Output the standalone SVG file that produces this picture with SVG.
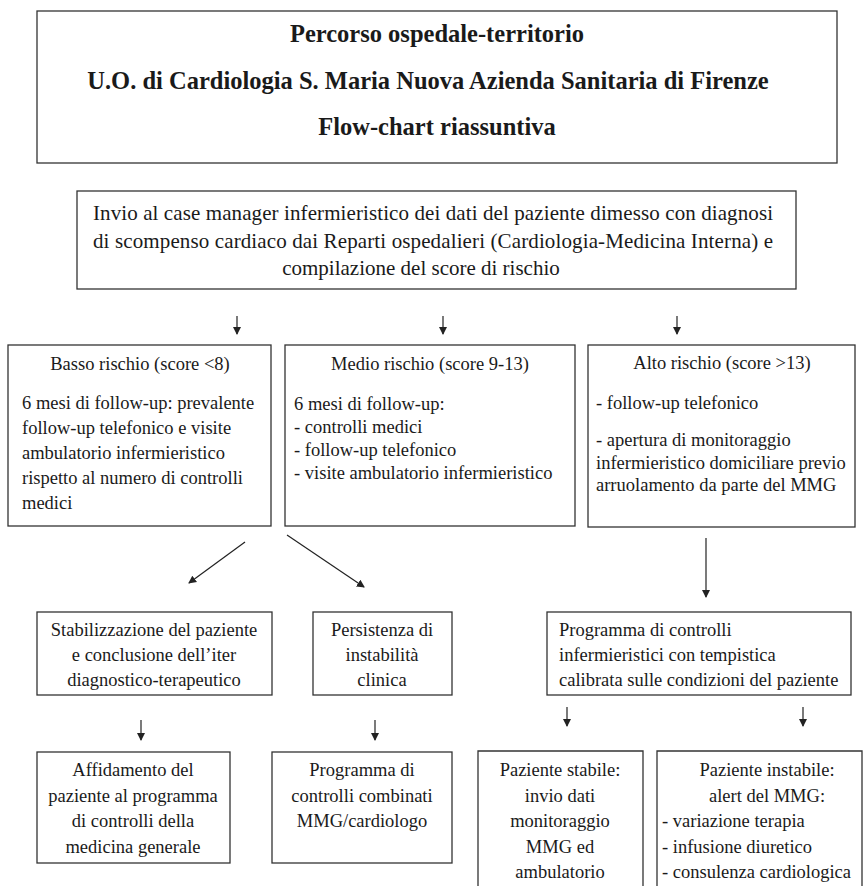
<svg xmlns="http://www.w3.org/2000/svg" width="864" height="886" viewBox="0 0 864 886">
<defs>
<style>
.box{fill:#fff;stroke:#333;stroke-width:1.3}
text{font-family:"Liberation Serif","Times New Roman",serif;fill:#1a1a1a;font-size:18.5px}
.t{font-weight:bold;font-size:24.5px;text-anchor:middle}
.c{text-anchor:middle}
.iv{font-size:21px}
.ln{stroke:#222;stroke-width:1.2;fill:none;marker-end:url(#ah)}
</style>
<marker id="ah" markerWidth="8" markerHeight="10" refX="7" refY="4" orient="auto" markerUnits="userSpaceOnUse" viewBox="0 0 8 8">
<path d="M0,0 L8,4 L0,8 Z" fill="#222"/>
</marker>
</defs>
<rect width="864" height="886" fill="#fff"/>

<g id="title">
<rect class="box" x="37" y="11" width="800" height="152"/>
<text class="t" x="437" y="42">Percorso ospedale-territorio</text>
<text class="t" x="428" y="89">U.O. di Cardiologia S. Maria Nuova Azienda Sanitaria di Firenze</text>
<text class="t" x="437" y="135">Flow-chart riassuntiva</text>
</g>

<g id="invio">
<rect class="box" x="77" y="191" width="719" height="98"/>
<text class="iv" x="93" y="220" textLength="680" lengthAdjust="spacing">Invio al case manager infermieristico dei dati del paziente dimesso con diagnosi</text>
<text class="iv" x="93" y="248" textLength="680" lengthAdjust="spacing">di scompenso cardiaco dai Reparti ospedalieri (Cardiologia-Medicina Interna) e</text>
<text class="iv c" x="421" y="275">compilazione del score di rischio</text>
</g>

<g id="basso">
<rect class="box" x="8" y="345" width="263" height="181"/>
<text class="c" x="140" y="370">Basso rischio (score &lt;8)</text>
<text x="22" y="409">6 mesi di follow-up: prevalente</text>
<text x="22" y="434">follow-up telefonico e visite</text>
<text x="22" y="459">ambulatorio infermieristico</text>
<text x="22" y="484">rispetto al numero di controlli</text>
<text x="22" y="509">medici</text>
</g>

<g id="medio">
<rect class="box" x="285" y="345" width="290" height="181"/>
<text class="c" x="430" y="370">Medio rischio (score 9-13)</text>
<text x="294" y="410">6 mesi di follow-up:</text>
<text x="294" y="433">- controlli medici</text>
<text x="294" y="456">- follow-up telefonico</text>
<text x="294" y="479">- visite ambulatorio infermieristico</text>
</g>

<g id="alto">
<rect class="box" x="588" y="345" width="267" height="182"/>
<text class="c" x="722" y="369">Alto rischio (score &gt;13)</text>
<text x="596" y="409">- follow-up telefonico</text>
<text x="596" y="446">- apertura di monitoraggio</text>
<text x="596" y="469">infermieristico domiciliare previo</text>
<text x="596" y="491">arruolamento da parte del MMG</text>
</g>

<g id="stabilizzazione">
<rect class="box" x="37" y="612" width="235" height="83"/>
<text class="c" x="154" y="636">Stabilizzazione del paziente</text>
<text class="c" x="154" y="661">e conclusione dell’iter</text>
<text class="c" x="154" y="686">diagnostico-terapeutico</text>
</g>

<g id="persistenza">
<rect class="box" x="313" y="612" width="139" height="83"/>
<text class="c" x="382" y="636">Persistenza di</text>
<text class="c" x="382" y="661">instabilità</text>
<text class="c" x="382" y="686">clinica</text>
</g>

<g id="programma-inf">
<rect class="box" x="547" y="612" width="304" height="83"/>
<text x="559" y="636">Programma di controlli</text>
<text x="559" y="661">infermieristici con tempistica</text>
<text x="559" y="686">calibrata sulle condizioni del paziente</text>
</g>

<g id="affidamento">
<rect class="box" x="37" y="752" width="193" height="111"/>
<text class="c" x="133" y="776">Affidamento del</text>
<text class="c" x="133" y="802">paziente al programma</text>
<text class="c" x="133" y="827">di controlli della</text>
<text class="c" x="133" y="853">medicina generale</text>
</g>

<g id="programma-comb">
<rect class="box" x="272" y="752" width="180" height="111"/>
<text class="c" x="362" y="776">Programma di</text>
<text class="c" x="362" y="802">controlli combinati</text>
<text class="c" x="362" y="827">MMG/cardiologo</text>
</g>

<g id="stabile">
<path class="box" d="M478,890 V751 H643 V890"/>
<text class="c" x="560" y="776">Paziente stabile:</text>
<text class="c" x="560" y="802">invio dati</text>
<text class="c" x="560" y="827">monitoraggio</text>
<text class="c" x="560" y="853">MMG ed</text>
<text class="c" x="560" y="878">ambulatorio</text>
</g>

<g id="instabile">
<path class="box" d="M657,890 V751 H862 V890"/>
<text class="c" x="767" y="776">Paziente instabile:</text>
<text class="c" x="767" y="802">alert del MMG:</text>
<text x="662" y="827">- variazione terapia</text>
<text x="662" y="853">- infusione diuretico</text>
<text x="662" y="878">- consulenza cardiologica</text>
</g>

<g id="connectors">
<line class="ln" x1="237" y1="316" x2="237" y2="334"/>
<line class="ln" x1="443" y1="316" x2="443" y2="334"/>
<line class="ln" x1="677" y1="316" x2="677" y2="334"/>
<line class="ln" x1="245" y1="542" x2="189" y2="583"/>
<line class="ln" x1="287" y1="535" x2="364" y2="587"/>
<line class="ln" x1="706" y1="538" x2="706" y2="597"/>
<line class="ln" x1="141" y1="720" x2="141" y2="740"/>
<line class="ln" x1="375" y1="720" x2="375" y2="740"/>
<line class="ln" x1="567" y1="707" x2="567" y2="726"/>
<line class="ln" x1="803" y1="707" x2="803" y2="726"/>
</g>
</svg>
